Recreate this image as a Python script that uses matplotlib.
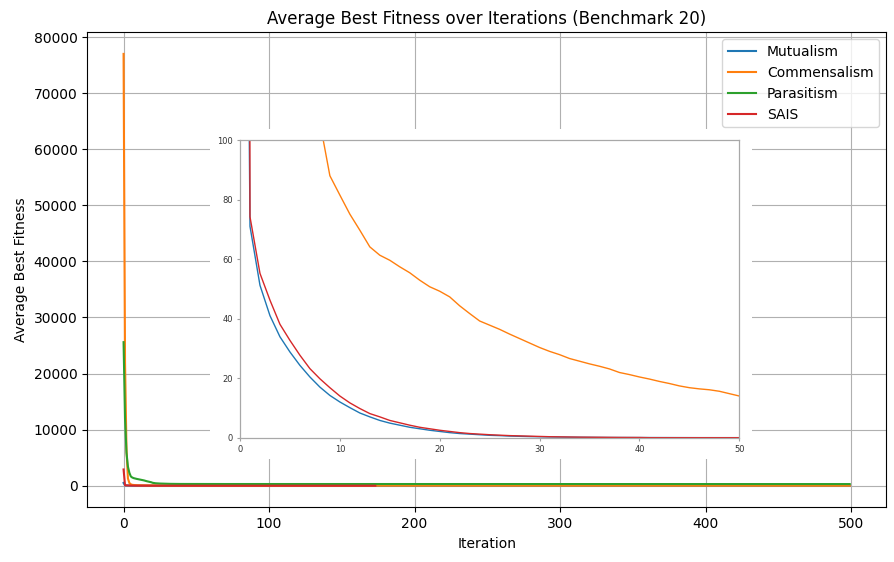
import matplotlib
matplotlib.use("Agg")
import matplotlib.pyplot as plt
from matplotlib.patches import Rectangle

# average best fitness per iteration
mutualism = [500, 71.0, 51.2, 41.0, 33.9, 28.8, 24.3, 20.4, 17.0, 14.2,
             12.0, 10.1, 8.3, 7.0, 5.8, 4.9, 4.2, 3.5, 3.0, 2.5,
             2.1, 1.7, 1.4, 1.2, 1.0, 0.8, 0.7, 0.55, 0.45, 0.38,
             0.3, 0.25, 0.2, 0.17, 0.14, 0.12, 0.1, 0.08, 0.07, 0.06,
             0.05, 0.04, 0.04, 0.03, 0.03, 0.02, 0.02, 0.02, 0.01, 0.01,
             0.01] + [0.0] * 449

commensalism = [77000, 22000, 6500, 1300, 480, 250, 160, 125, 106, 88.0,
                81.5, 75.1, 69.7, 64.1, 61.3, 59.6, 57.4, 55.4, 52.9, 50.7,
                49.2, 47.3, 44.3, 41.7, 39.2, 37.8, 36.4, 34.8, 33.3, 31.8,
                30.3, 29.0, 27.9, 26.6, 25.7, 24.8, 24.0, 23.1, 21.9, 21.2,
                20.4, 19.7, 18.9, 18.2, 17.4, 16.8, 16.4, 16.1, 15.6, 14.8,
                14.0] + [12.0] * 50 + [8.0] * 100 + [5.0] * 150 + [3.0] * 149

parasitism = [25600, 12000, 5900, 3400, 2300, 1650, 1460, 1350, 1280, 1220,
              1170, 1120, 1080, 1040, 950, 870, 800, 740, 680, 620,
              520, 470, 440, 420, 400, 390, 380, 370, 360, 350,
              345, 340, 335, 330, 328, 325, 322, 320, 318, 316,
              315, 314, 313, 312, 311, 310, 310, 309, 308, 308,
              307] + [305] * 100 + [300] * 150 + [295] * 199

sais = [2900, 74.2, 55.2, 46.2, 38.1, 32.7, 27.7, 23.2, 19.8, 16.8,
        14.0, 11.7, 9.8, 8.1, 7.0, 5.8, 5.0, 4.2, 3.5, 3.0,
        2.5, 2.1, 1.7, 1.4, 1.2, 1.0, 0.85, 0.7, 0.6, 0.5,
        0.4, 0.33, 0.27, 0.22, 0.18, 0.15, 0.12, 0.1, 0.08, 0.07,
        0.06] + [0.0] * 133

series = [("Mutualism", mutualism, "#1f77b4"),
          ("Commensalism", commensalism, "#ff7f0e"),
          ("Parasitism", parasitism, "#2ca02c"),
          ("SAIS", sais, "#d62728")]

fig = plt.figure(figsize=(8.95, 5.62), dpi=100)
ax = fig.add_axes([0.0975, 0.0973, 0.8925, 0.8452])

for name, vals, col in series:
    ax.plot(range(len(vals)), vals, label=name, color=col, linewidth=1.5)

ax.set_title("Average Best Fitness over Iterations (Benchmark 20)", fontsize=12)
ax.set_xlabel("Iteration")
ax.set_ylabel("Average Best Fitness")
ax.set_xticks(range(0, 501, 100))
ax.set_yticks(range(0, 80001, 10000))
ax.grid(True)
ax.legend(loc="upper right")

# white backdrop behind the zoomed inset (hides the main grid there)
bg = Rectangle((210 / 895, 1 - 459.3 / 562), (751.7 - 210) / 895, (459.3 - 129) / 562,
               transform=fig.transFigure, facecolor="white", edgecolor="none", zorder=1)
fig.patches.append(bg)

# inset zoom of the first 50 iterations
axins = fig.add_axes([240 / 895, 1 - 437.7 / 562, 499.3 / 895, 297.7 / 562], zorder=2)
for name, vals, col in series:
    axins.plot(range(len(vals)), vals, color=col, linewidth=1.0)
axins.set_xlim(0, 50)
axins.set_ylim(0, 100)
axins.set_xticks(range(0, 51, 10))
axins.set_yticks(range(0, 101, 20))
axins.tick_params(labelsize=6, length=2.5, pad=2.5, color="#a0a0a0", labelcolor="#333333")
for sp in axins.spines.values():
    sp.set_color("#a8a8a8")
    sp.set_linewidth(0.9)

fig.savefig("out.png", dpi=100)
